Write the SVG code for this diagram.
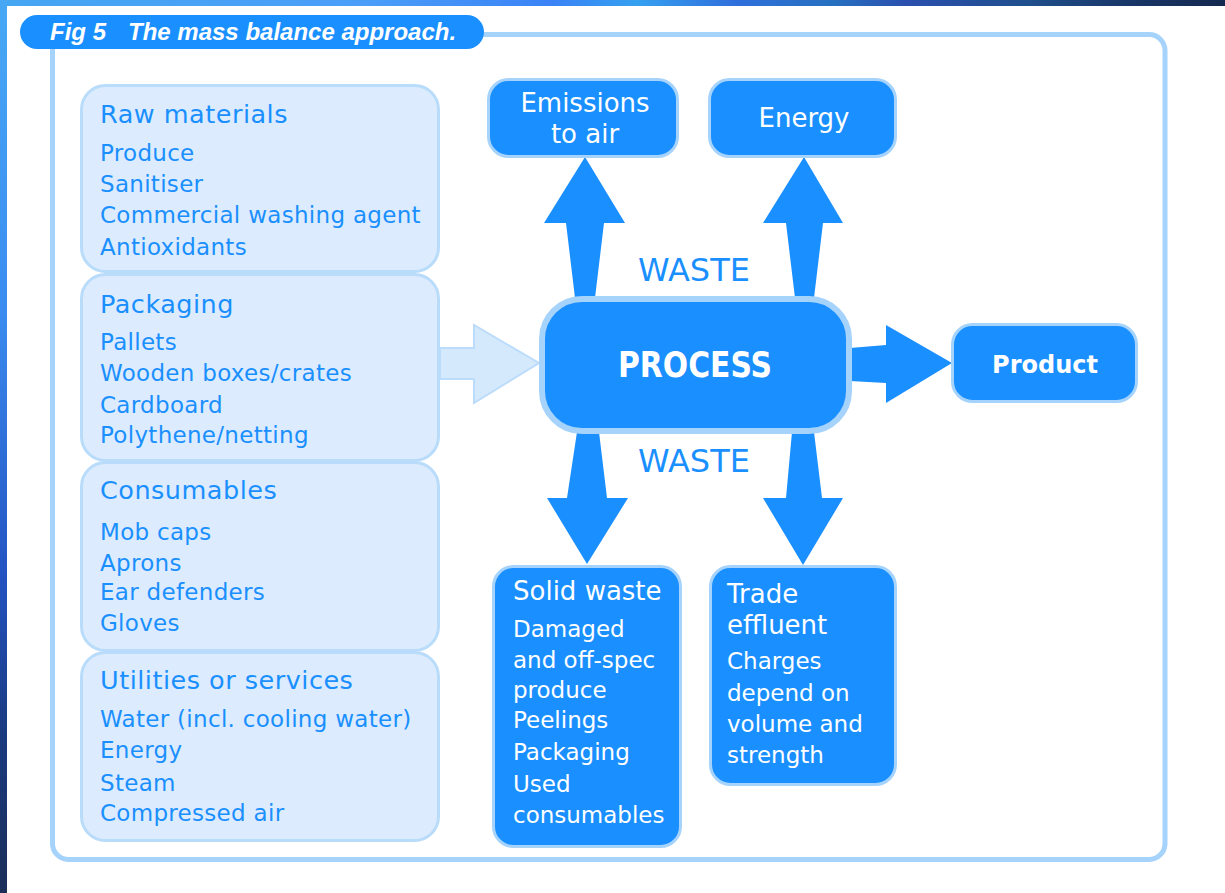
<svg xmlns="http://www.w3.org/2000/svg" width="1225" height="893" viewBox="0 0 1225 893">
<defs>
<linearGradient id="gTop" x1="0" y1="0" x2="1" y2="0">
<stop offset="0" stop-color="#45a6f2"/>
<stop offset="0.3" stop-color="#4a9ef8"/>
<stop offset="0.45" stop-color="#3a82f6"/>
<stop offset="0.52" stop-color="#35a0f0"/>
<stop offset="0.6" stop-color="#2f6fdc"/>
<stop offset="0.68" stop-color="#2670c0"/>
<stop offset="0.74" stop-color="#2a4fae"/>
<stop offset="0.84" stop-color="#1f4f8c"/>
<stop offset="0.92" stop-color="#183668"/>
<stop offset="1" stop-color="#15294f"/>
</linearGradient>
<linearGradient id="gLeft" x1="0" y1="0" x2="0" y2="1">
<stop offset="0" stop-color="#48a8f5"/>
<stop offset="0.35" stop-color="#3a8cf0"/>
<stop offset="0.65" stop-color="#2352c0"/>
<stop offset="0.82" stop-color="#1a3a80"/>
<stop offset="1" stop-color="#1a2e58"/>
</linearGradient>
</defs>
<style>
.frame{fill:none;stroke:#a6d3fb;stroke-width:5}
.lbox{fill:#dcecfe;stroke:#b9dcfb;stroke-width:3}
.dbox{fill:#1a8fff;stroke:#a6d3fb;stroke-width:3}
.arrow{fill:#1a8fff}
.larrow{fill:#d5e9fd;stroke:#bcdcfb;stroke-width:2}
.t{font-family:"DejaVu Sans",sans-serif;fill:#1a8fff;font-size:23px;letter-spacing:0.3px}
.h{font-family:"DejaVu Sans",sans-serif;fill:#1a8fff;font-size:25.5px;letter-spacing:0.5px}
.w{font-family:"DejaVu Sans",sans-serif;fill:#ffffff;font-size:23px}
.wh{font-family:"DejaVu Sans",sans-serif;fill:#ffffff;font-size:26px}
.title{font-family:"Liberation Sans",Arial,sans-serif;font-style:italic;font-weight:bold;fill:#ffffff;font-size:24px}
</style>
<rect x="0" y="0" width="1225" height="893" fill="#ffffff"/>
<rect x="0" y="0" width="1225" height="6" fill="url(#gTop)"/>
<rect x="0" y="0" width="7" height="893" fill="url(#gLeft)"/>
<rect class="frame" x="52.5" y="34.5" width="1112.5" height="825" rx="16"/>

<g id="title">
<rect x="20" y="15" width="464" height="34" rx="17" fill="#1a8fff"/>
<text class="title" x="50" y="40">Fig 5</text>
<text class="title" x="128" y="40">The mass balance approach.</text>
</g>

<g id="connectors">
<polygon class="larrow" points="440,348 474,348 474,325 539,363 474,403 474,379 440,379"/>
<polygon class="arrow" points="585,157 625,223 604,223 595,298 575,298 566,223 544,223"/>
<polygon class="arrow" points="804,157 843,223 823,223 814,298 795,298 786,223 763,223"/>
<polygon class="arrow" points="577,432 599,432 607,498 628,498 587,564 547,498 567,498"/>
<polygon class="arrow" points="792,432 814,432 822,498 843,498 803,565 763,498 786,498"/>
<polygon class="arrow" points="850,348 886,345 886,325 952,363 886,403 886,383 850,381"/>
</g>

<g id="raw-materials">
<rect class="lbox" x="81.5" y="85.5" width="357" height="186" rx="24"/>
<text class="h" x="100" y="123">Raw materials</text>
<text class="t" x="100" y="161">Produce</text>
<text class="t" x="100" y="192">Sanitiser</text>
<text class="t" x="100" y="223">Commercial washing agent</text>
<text class="t" x="100" y="255">Antioxidants</text>
</g>
<g id="packaging">
<rect class="lbox" x="81.5" y="274.5" width="357" height="186" rx="24"/>
<text class="h" x="100" y="313">Packaging</text>
<text class="t" x="100" y="350">Pallets</text>
<text class="t" x="100" y="381">Wooden boxes/crates</text>
<text class="t" x="100" y="413">Cardboard</text>
<text class="t" x="100" y="443">Polythene/netting</text>
</g>
<g id="consumables">
<rect class="lbox" x="81.5" y="462.5" width="357" height="188" rx="24"/>
<text class="h" x="100" y="499">Consumables</text>
<text class="t" x="100" y="540">Mob caps</text>
<text class="t" x="100" y="571">Aprons</text>
<text class="t" x="100" y="600">Ear defenders</text>
<text class="t" x="100" y="631">Gloves</text>
</g>
<g id="utilities">
<rect class="lbox" x="81.5" y="652.5" width="357" height="188" rx="24"/>
<text class="h" x="100" y="689">Utilities or services</text>
<text class="t" x="100" y="727">Water (incl. cooling water)</text>
<text class="t" x="100" y="758">Energy</text>
<text class="t" x="100" y="791">Steam</text>
<text class="t" x="100" y="821">Compressed air</text>
</g>

<g id="process">
<rect x="542" y="299" width="307" height="132" rx="40" fill="#1a8fff" stroke="#a6d3fb" stroke-width="6"/>
<text x="695" y="377" text-anchor="middle" font-family="DejaVu Sans, sans-serif" font-weight="bold" font-size="35" fill="#ffffff" textLength="154" lengthAdjust="spacingAndGlyphs">PROCESS</text>
</g>

<g id="waste-labels">
<text x="694" y="281" text-anchor="middle" font-family="DejaVu Sans, sans-serif" font-size="32" fill="#1a8fff">WASTE</text>
<text x="694" y="472" text-anchor="middle" font-family="DejaVu Sans, sans-serif" font-size="32" fill="#1a8fff">WASTE</text>
</g>

<g id="emissions">
<rect class="dbox" x="488.5" y="79.5" width="189" height="77" rx="20"/>
<text class="wh" x="585" y="112" text-anchor="middle" font-size="25">Emissions</text>
<text class="wh" x="585" y="143" text-anchor="middle" font-size="25">to air</text>
</g>
<g id="energy">
<rect class="dbox" x="709.5" y="79.5" width="186" height="77" rx="20"/>
<text class="wh" x="804" y="127" text-anchor="middle" font-size="25">Energy</text>
</g>
<g id="product">
<rect class="dbox" x="952.5" y="324.5" width="184" height="77" rx="20"/>
<text x="1045" y="373" text-anchor="middle" font-family="DejaVu Sans, sans-serif" font-weight="bold" font-size="24" fill="#ffffff">Product</text>
</g>
<g id="solid-waste">
<rect class="dbox" x="493.5" y="566.5" width="187" height="280" rx="20"/>
<text class="wh" x="513" y="600">Solid waste</text>
<text class="w" x="513" y="637">Damaged</text>
<text class="w" x="513" y="668">and off-spec</text>
<text class="w" x="513" y="698">produce</text>
<text class="w" x="513" y="728">Peelings</text>
<text class="w" x="513" y="760">Packaging</text>
<text class="w" x="513" y="792">Used</text>
<text class="w" x="513" y="823">consumables</text>
</g>
<g id="trade-effluent">
<rect class="dbox" x="710.5" y="566.5" width="185" height="218" rx="20"/>
<text class="wh" x="727" y="603">Trade</text>
<text class="wh" x="727" y="634">effluent</text>
<text class="w" x="727" y="669">Charges</text>
<text class="w" x="727" y="701">depend on</text>
<text class="w" x="727" y="732">volume and</text>
<text class="w" x="727" y="763">strength</text>
</g>
</svg>
